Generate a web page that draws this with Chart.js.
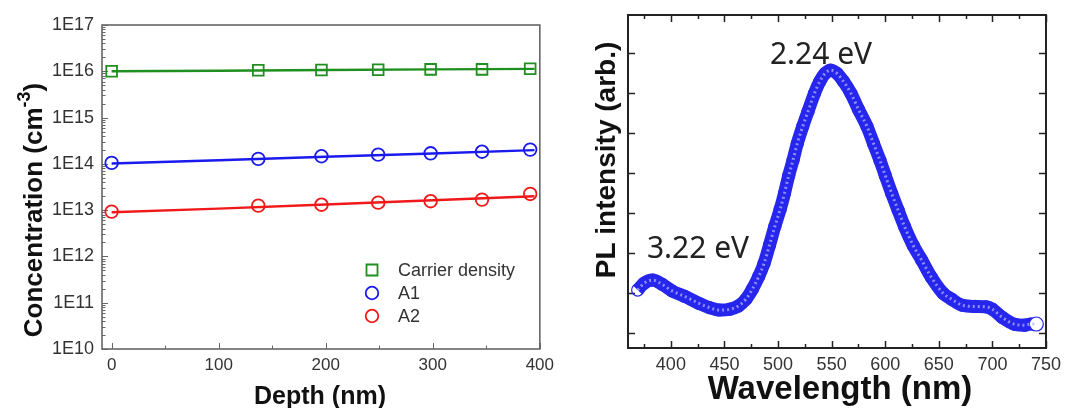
<!DOCTYPE html>
<html>
<head>
<meta charset="utf-8">
<script src="https://cdn.jsdelivr.net/npm/chart.js@4.4.1/dist/chart.umd.min.js"></script>
<style>
  html, body { margin: 0; padding: 0; background: #fff; }
  #wrap { position: relative; width: 1067px; height: 408px; overflow: hidden; }
  .box { position: absolute; top: 0; height: 408px; }
</style>
</head>
<body>
<div id="wrap">
  <div class="box" style="left:0;width:560px"><canvas id="depthChart"></canvas></div>
  <div class="box" style="left:560px;width:507px"><canvas id="plChart"></canvas></div>
</div>
<script>
// --- left panel: depth profile ---
const depthNm = [0, 137, 196, 249, 298, 346, 391];
const carrierDensity = [1.0e16, 1.05e16, 1.07e16, 1.08e16, 1.10e16, 1.10e16, 1.14e16];
const a1Conc = [1.05e14, 1.28e14, 1.46e14, 1.58e14, 1.69e14, 1.83e14, 2.03e14];
const a2Conc = [0.93e13, 1.25e13, 1.31e13, 1.45e13, 1.56e13, 1.69e13, 2.24e13];

// fitted lines drawn through the markers
const fitDepth = [0, 100, 200, 300, 395];
const carrierFit = [1.0e16, 1.03e16, 1.07e16, 1.10e16, 1.13e16];
const a1Fit = [1.02e14, 1.2e14, 1.42e14, 1.68e14, 1.98e14];
const a2Fit = [0.9e13, 1.08e13, 1.32e13, 1.63e13, 2.0e13];

const depthTicks = [0, 100, 200, 300, 400];
const depthMinor = [50, 150, 250, 350];
const concTicks = [1e10, 1e11, 1e12, 1e13, 1e14, 1e15, 1e16, 1e17];

// --- right panel: PL spectrum ---
const wavelength = [369, 375, 383, 392, 401, 413, 426, 436, 445, 455, 463, 470, 476, 482,
  487, 492, 497, 502, 506, 510, 514, 518, 523, 528, 534, 539, 544, 549, 555, 561, 568,
  575, 583, 589, 595, 600, 606, 612, 618, 626, 634, 643, 654, 662, 672, 684, 694, 700,
  709, 721, 730, 736, 741];
const plIntensity = [1.08, 1.25, 1.33, 1.22, 1.06, 0.92, 0.75, 0.64, 0.58, 0.60, 0.68, 0.85,
  1.1, 1.42, 1.75, 2.2, 2.67, 3.1, 3.5, 3.95, 4.33, 4.75, 5.17, 5.55, 6.0, 6.3, 6.5, 6.58,
  6.5, 6.3, 6.0, 5.6, 5.17, 4.75, 4.33, 3.95, 3.5, 3.08, 2.67, 2.2, 1.83, 1.4, 1.0, 0.85,
  0.7, 0.67, 0.66, 0.6, 0.4, 0.22, 0.2, 0.23, 0.23];

const waveTicks = [400, 450, 500, 550, 600, 650, 700, 750];
const waveMinor = [375, 425, 475, 525, 575, 625, 675, 725];
const plTicks = [0, 1, 2, 3, 4, 5, 6, 7];

const GREEN = '#1f8f1f', BLUE = '#1a1aee', RED = '#f01818', PLBLUE = '#2626ec';

const xy = (xs, ys) => xs.map((x, i) => ({ x: x, y: ys[i] }));

// frame round the plot area and inward tick marks
const frameTicks = {
  id: 'frameTicks',
  beforeDatasetsDraw(chart, args, opts) {
    const { ctx, chartArea: a, scales } = chart;
    ctx.save();
    ctx.strokeStyle = opts.color;
    ctx.lineWidth = opts.width;
    ctx.strokeRect(a.left, a.top, a.right - a.left, a.bottom - a.top);
    ctx.lineWidth = opts.tickWidth;
    (opts.marks || []).forEach(m => {
      const sc = scales[m.axis];
      m.values.forEach(v => {
        const p = Math.round(sc.getPixelForValue(v)) + 0.5;
        ctx.beginPath();
        m.sides.forEach(s => {
          if (s === 'bottom') { ctx.moveTo(p, a.bottom); ctx.lineTo(p, a.bottom - m.len); }
          if (s === 'top') { ctx.moveTo(p, a.top); ctx.lineTo(p, a.top + m.len); }
          if (s === 'left') { ctx.moveTo(a.left, p); ctx.lineTo(a.left + m.len, p); }
          if (s === 'right') { ctx.moveTo(a.right, p); ctx.lineTo(a.right - m.len, p); }
        });
        ctx.stroke();
      });
    });
    ctx.restore();
  }
};

// axis titles, annotations and the inset legend
const labels = {
  id: 'labels',
  afterDraw(chart, args, opts) {
    const ctx = chart.ctx;
    ctx.save();
    (opts.texts || []).forEach(t => {
      ctx.save();
      ctx.translate(t.x, t.y);
      if (t.rotate) ctx.rotate(t.rotate);
      ctx.fillStyle = t.color || '#111';
      ctx.textBaseline = t.baseline || 'middle';
      const parts = t.parts || [{ text: t.text }];
      const supFont = t.supFont || t.font;
      let total = 0;
      parts.forEach(p => { ctx.font = p.sup ? supFont : t.font; total += ctx.measureText(p.text).width; });
      let cx = t.align === 'left' ? 0 : -total / 2;
      ctx.textAlign = 'left';
      parts.forEach(p => {
        ctx.font = p.sup ? supFont : t.font;
        ctx.fillText(p.text, cx, p.sup ? (t.supShift || -8) : 0);
        cx += ctx.measureText(p.text).width;
      });
      ctx.restore();
    });
    (opts.legend || []).forEach(l => {
      ctx.strokeStyle = l.color;
      ctx.lineWidth = 1.8;
      ctx.beginPath();
      if (l.style === 'rect') ctx.rect(l.x - 5.5, l.y - 5.5, 11, 11);
      else ctx.arc(l.x, l.y, 6.3, 0, Math.PI * 2);
      ctx.stroke();
      ctx.fillStyle = '#333';
      ctx.font = '18px "Liberation Sans", Arial, sans-serif';
      ctx.textAlign = 'left';
      ctx.textBaseline = 'middle';
      ctx.fillText(l.label, l.x + 26, l.y + 1);
    });
    ctx.restore();
  }
};

Chart.register(frameTicks, labels);

const fixedTicks = list => scale => { scale.ticks = list.map(v => ({ value: v })); };

new Chart(document.getElementById('depthChart'), {
  type: 'line',
  data: {
    datasets: [
      { data: xy(fitDepth, carrierFit), borderColor: GREEN, borderWidth: 2.4, pointRadius: 0, tension: 0 },
      { data: xy(fitDepth, a1Fit), borderColor: BLUE, borderWidth: 2.4, pointRadius: 0, tension: 0 },
      { data: xy(fitDepth, a2Fit), borderColor: RED, borderWidth: 2.4, pointRadius: 0, tension: 0 },
      { label: 'Carrier density', data: xy(depthNm, carrierDensity), showLine: false, pointStyle: 'rect',
        pointRadius: 7.6, borderColor: GREEN, backgroundColor: 'rgba(0,0,0,0)', pointBorderWidth: 1.8 },
      { label: 'A1', data: xy(depthNm, a1Conc), showLine: false, pointStyle: 'circle',
        pointRadius: 6.3, borderColor: BLUE, backgroundColor: 'rgba(0,0,0,0)', pointBorderWidth: 1.8 },
      { label: 'A2', data: xy(depthNm, a2Conc), showLine: false, pointStyle: 'circle',
        pointRadius: 6.3, borderColor: RED, backgroundColor: 'rgba(0,0,0,0)', pointBorderWidth: 1.8 }
    ]
  },
  options: {
    responsive: true,
    maintainAspectRatio: false,
    animation: false,
    events: [],
    layout: { padding: { left: 0, top: 25, right: 20, bottom: 0 } },
    scales: {
      x: {
        type: 'linear', min: -9, max: 400,
        grid: { display: false, drawTicks: false }, border: { display: false },
        afterBuildTicks: fixedTicks(depthTicks),
        afterFit: s => { s.height = 59; },
        ticks: { padding: 6, color: '#333', font: { family: '"Liberation Sans", Arial, sans-serif', size: 17 } }
      },
      y: {
        type: 'logarithmic', min: 1e10, max: 1e17,
        grid: { display: false, drawTicks: false }, border: { display: false },
        afterBuildTicks: fixedTicks(concTicks),
        afterFit: s => { s.width = 102; },
        ticks: {
          padding: 8, color: '#333', font: { family: '"Liberation Sans", Arial, sans-serif', size: 18 },
          callback: v => '1E' + Math.round(Math.log10(v))
        }
      }
    },
    plugins: {
      legend: { display: false },
      tooltip: { enabled: false },
      frameTicks: {
        color: '#666', width: 1.6, tickWidth: 1,
        marks: [
          { axis: 'x', values: depthTicks, len: 6, sides: ['bottom'] },
          { axis: 'x', values: depthMinor, len: 3.5, sides: ['bottom'] },
          { axis: 'y', values: concTicks, len: 6, sides: ['left'] },
          { axis: 'y', values: concTicks.slice(0, -1).flatMap(d => [2, 3, 4, 5, 6, 7, 8, 9].map(k => k * d)), len: 3.5, sides: ['left'] }
        ]
      },
      labels: {
        texts: [
          { x: 320, y: 397, text: 'Depth (nm)', font: 'bold 25px "Liberation Sans", Arial, sans-serif' },
          { x: 35, y: 210, rotate: -Math.PI / 2, font: 'bold 26px "Liberation Sans", Arial, sans-serif',
            supFont: 'bold 18px "Liberation Sans", Arial, sans-serif', supShift: -10,
            parts: [{ text: 'Concentration (cm' }, { text: '-3', sup: true }, { text: ')' }] }
        ],
        legend: [
          { x: 372, y: 270, style: 'rect', color: GREEN, label: 'Carrier density' },
          { x: 372, y: 293, style: 'circle', color: BLUE, label: 'A1' },
          { x: 372, y: 316, style: 'circle', color: RED, label: 'A2' }
        ]
      }
    }
  }
});

const lastIdx = wavelength.length - 1;

new Chart(document.getElementById('plChart'), {
  type: 'line',
  data: {
    datasets: [{
      // thin light streak inside the marker band
      data: xy(wavelength, plIntensity),
      borderColor: 'rgba(175,175,255,0.75)',
      borderWidth: 3,
      borderDash: [2, 3],
      cubicInterpolationMode: 'monotone',
      pointRadius: 0
    }, {
      data: xy(wavelength, plIntensity),
      borderColor: PLBLUE,
      borderWidth: 13,
      cubicInterpolationMode: 'monotone',
      pointStyle: 'circle',
      pointRadius: plIntensity.map((v, i) => i === lastIdx ? 7 : 6),
      pointBorderColor: PLBLUE,
      pointBorderWidth: 1.2,
      pointBackgroundColor: plIntensity.map((v, i) => i === lastIdx ? '#fff' : 'rgba(0,0,0,0)')
    }]
  },
  options: {
    responsive: true,
    maintainAspectRatio: false,
    animation: false,
    events: [],
    layout: { padding: { left: 0, top: 15, right: 17, bottom: 0 } },
    scales: {
      x: {
        type: 'linear', min: 360, max: 750,
        grid: { display: false, drawTicks: false }, border: { display: false },
        afterBuildTicks: fixedTicks(waveTicks),
        afterFit: s => { s.height = 60; },
        ticks: { padding: 6, color: '#333', font: { family: '"Liberation Sans", Arial, sans-serif', size: 18 } }
      },
      y: {
        type: 'linear', min: -0.37, max: 7.96,
        grid: { display: false, drawTicks: false }, border: { display: false },
        afterBuildTicks: fixedTicks(plTicks),
        afterFit: s => { s.width = 68; },
        ticks: { display: false }
      }
    },
    plugins: {
      legend: { display: false },
      tooltip: { enabled: false },
      frameTicks: {
        color: '#222', width: 2, tickWidth: 1.5,
        marks: [
          { axis: 'x', values: waveTicks, len: 7, sides: ['bottom', 'top'] },
          { axis: 'x', values: waveMinor, len: 4, sides: ['bottom', 'top'] },
          { axis: 'y', values: plTicks, len: 7, sides: ['left', 'right'] }
        ]
      },
      labels: {
        texts: [
          { x: 280, y: 390, text: 'Wavelength (nm)', font: 'bold 33px "Liberation Sans", Arial, sans-serif' },
          { x: 47, y: 160, rotate: -Math.PI / 2, text: 'PL intensity (arb.)', font: 'bold 28px "Liberation Sans", Arial, sans-serif' },
          { x: 261, y: 64, baseline: 'alphabetic', text: '2.24 eV', font: '30px "Noto Sans", sans-serif', color: '#222' },
          { x: 138, y: 258, baseline: 'alphabetic', text: '3.22 eV', font: '30px "Noto Sans", sans-serif', color: '#222' }
        ]
      }
    }
  }
});
</script>
</body>
</html>
